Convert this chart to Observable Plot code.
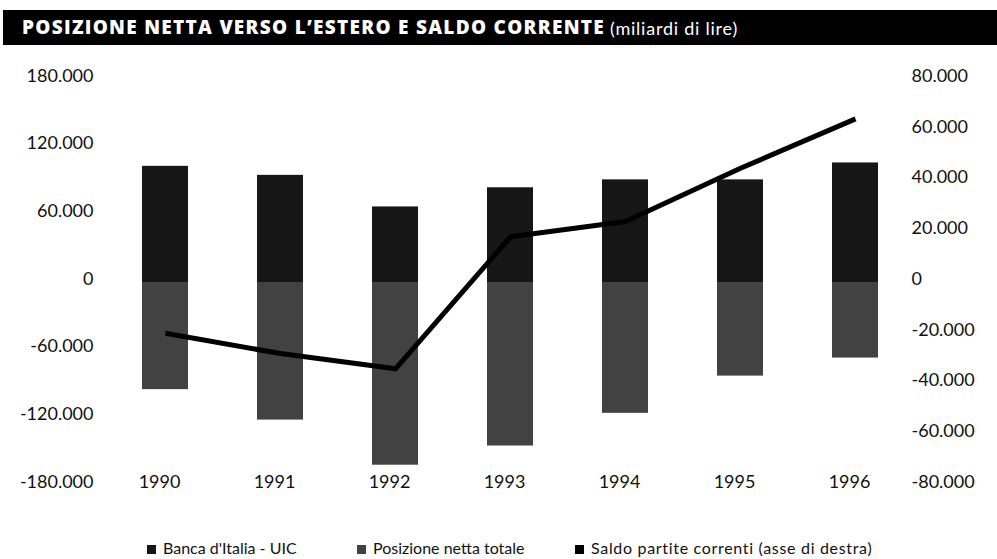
<!DOCTYPE html>
<html>
<head>
<meta charset="utf-8">
<script src="https://cdn.jsdelivr.net/npm/d3@7"></script>
<script src="https://cdn.jsdelivr.net/npm/@observablehq/plot@0.6"></script>
<style>
  html, body { margin: 0; padding: 0; background: #fff; }
  body { width: 997px; height: 559px; position: relative; overflow: hidden; font-family: Lato, "Open Sans", sans-serif; color: #111; }
  #title { position: absolute; left: 3px; top: 10px; width: 994px; height: 35px; background: #000; color: #fff; white-space: nowrap; }
  #title .b { position: absolute; left: 19px; top: 5px; font-family: "Open Sans", Lato, sans-serif; font-weight: 800; font-size: 19px; line-height: 24px; }
  #title .l { position: absolute; left: 607px; top: 6px; font-family: Lato, sans-serif; font-weight: 400; font-size: 18px; line-height: 24px; }
  #chart { position: absolute; left: 0; top: 48px; }
  .leg { position: absolute; top: 538px; font-size: 16px; line-height: 20px; white-space: nowrap; }
  .leg i { display: inline-block; width: 9px; height: 9px; margin-right: 7px; vertical-align: 0px; }
</style>
</head>
<body>
<div id="title"><span class="b" id="tb">POSIZIONE NETTA VERSO L’ESTERO E SALDO CORRENTE</span><span class="l" id="tl">(miliardi di lire)</span></div>
<div id="chart"></div>
<div id="legend"></div>
<script>
const years = ["1990", "1991", "1992", "1993", "1994", "1995", "1996"];
const bancaItalia = [103000, 95000, 67000, 84000, 91000, 91000, 106000];
const posizioneNetta = [-95000, -122000, -162000, -145000, -116000, -83000, -67000];
const saldoCorrente = [-20000, -28000, -34000, 18000, 24000, 45000, 64500];
const leftTicks = [180000, 120000, 60000, 0, -60000, -120000, -180000];
const rightTicks = [80000, 60000, 40000, 20000, 0, -20000, -40000, -60000, -80000];
const legendLabels = ["Banca d'Italia - UIC", "Posizione netta totale", "Saldo partite correnti (asse di destra)"];
const legendColors = ["#161616", "#424242", "#000"];

const ratio = 180000 / 80000;
const table = years.map((y, i) => ({year: y, banca: bancaItalia[i], posizione: posizioneNetta[i], saldo: saldoCorrente[i]}));
const fmt = d => d === 0 ? "0" : (d < 0 ? "-" : "") + d3.format(",")(Math.abs(d)).replace(/,/g, ".");

const chart = Plot.plot({
  width: 997,
  height: 490,
  marginLeft: 100,
  marginRight: 90,
  marginTop: 20,
  marginBottom: 68,
  style: {fontFamily: "Lato, 'Open Sans', sans-serif", fontSize: "18px", color: "#111", background: "transparent"},
  x: {type: "band", domain: years, range: [70, 950], padding: 0.6, label: null},
  y: {domain: [-180000, 180000], range: [437, 31], label: null},
  marks: [
    Plot.barY(table, {x: "year", y: "banca", fill: legendColors[0]}),
    Plot.barY(table, {x: "year", y: "posizione", fill: legendColors[1]}),
    Plot.line(table, {x: "year", y: d => d.saldo * ratio, stroke: "#000", strokeWidth: 5, strokeLinecap: "butt", strokeLinejoin: "round"}),
    Plot.axisY(leftTicks, {anchor: "left", tickSize: 0, tickPadding: 7, tickFormat: fmt, dy: -3.5, label: null, fontSize: 18}),
    Plot.axisY(rightTicks.map(v => v * ratio), {anchor: "right", tickSize: 0, tickPadding: 4, tickFormat: d => fmt(Math.round(d / ratio)), dy: -3.5, label: null, fontSize: 18}),
    Plot.axisX({anchor: "bottom", tickSize: 0, tickPadding: 5, dx: -6, label: null, fontSize: 18})
  ]
});
document.getElementById("chart").appendChild(chart);

// legend
const legX = [147, 357, 575];
const legTargets = [0, 0, 282];
const legend = document.getElementById("legend");
const legSpans = [];
legendLabels.forEach((t, i) => {
  const d = document.createElement("div");
  d.className = "leg";
  d.style.left = legX[i] + "px";
  const sq = document.createElement("i");
  sq.style.background = legendColors[i];
  d.appendChild(sq);
  const s = document.createElement("span");
  s.textContent = t;
  d.appendChild(s);
  legend.appendChild(d);
  legSpans.push(s);
});

// fit text widths to the reference
function fitTo(el, target) {
  const n = el.textContent.length;
  el.style.letterSpacing = "0px";
  const w = el.getBoundingClientRect().width;
  el.style.letterSpacing = ((target - w) / n) + "px";
}
function fitAll() {
  fitTo(document.getElementById("tb"), 583);
  fitTo(document.getElementById("tl"), 128);
  legSpans.forEach((s, i) => { if (legTargets[i]) fitTo(s, legTargets[i]); });
}
fitAll();
if (document.fonts && document.fonts.ready) document.fonts.ready.then(fitAll);
</script>
</body>
</html>
